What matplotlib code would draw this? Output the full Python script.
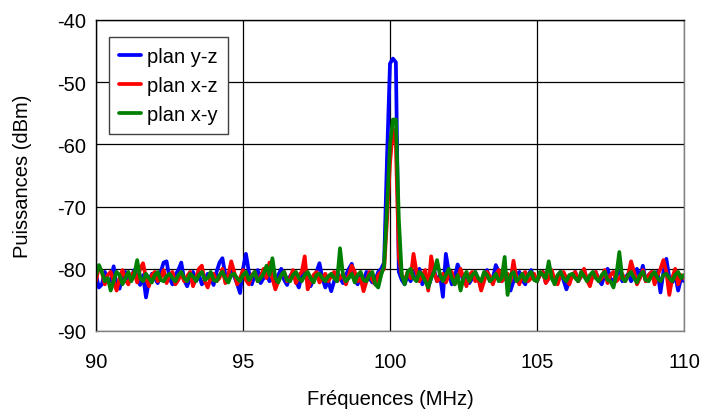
import numpy as np
import matplotlib

matplotlib.use('Agg')
import matplotlib.pyplot as plt

plt.rcParams['font.family'] = ['Liberation Sans', 'DejaVu Sans']
plt.rcParams['axes.unicode_minus'] = False

# frequency grid, 0.1 MHz step from 90 to 110 MHz
freq = np.round(np.arange(900, 1101) / 10.0, 1)

# plan y-z (blue), one row per MHz
yz = [-81.0, -83.0, -82.5, -80.5, -81.8, -82.0, -79.6, -82.8, -83.2, -81.0,
      -80.5, -82.0, -81.2, -80.2, -81.5, -82.6, -81.0, -84.6, -82.0, -80.8,
      -81.5, -82.3, -80.5, -79.0, -78.8, -81.5, -82.5, -81.0, -80.2, -79.0,
      -81.8, -82.8, -81.5, -80.5, -82.0, -81.0, -82.5, -81.8, -80.8, -81.5,
      -82.6, -80.5, -79.0, -78.3, -81.0, -82.0, -80.5, -81.2, -82.4, -83.9,
      -80.0, -77.6, -80.5, -82.5, -81.0, -80.2, -82.3, -81.5, -80.8, -82.0,
      -81.5, -82.8, -81.0, -80.0, -81.8, -82.6, -81.2, -80.5, -82.0, -83.0,
      -81.0, -80.2, -82.2, -82.8, -81.5, -80.5, -79.1, -81.5, -83.0, -82.0,
      -83.6, -82.0, -80.5, -81.5, -82.3, -81.0, -80.0, -79.2, -81.8, -82.5,
      -81.0, -82.0, -80.5, -81.5, -82.2, -81.8, -80.5, -80.0, -79.0, -62.0,
      -47.0, -46.2, -46.8, -80.5, -81.8, -82.5, -81.0, -82.0, -80.5, -81.2,
      -80.0, -82.5, -81.0, -83.0, -81.5, -80.2, -82.0, -81.0, -84.5, -77.6,
      -80.5, -82.5, -81.5, -79.3, -80.5, -82.0, -81.0, -82.3, -81.5, -80.5,
      -81.8, -82.5, -81.0, -80.2, -82.0, -81.5, -79.4, -80.5, -82.0, -81.2,
      -82.3, -83.5, -82.0, -81.0, -80.5, -81.8, -82.5, -81.0, -80.2, -81.5,
      -82.0, -81.0, -80.5, -82.2, -81.5, -80.8, -82.0, -81.2, -80.5, -81.8,
      -83.3, -82.0, -81.0, -80.5, -82.0, -81.2, -80.2, -81.8, -82.5, -81.0,
      -80.5, -81.8, -82.5, -81.0, -80.0, -81.5, -82.2, -81.0, -80.5, -82.0,
      -81.5, -80.8, -82.0, -81.2, -80.0, -81.5, -79.5, -82.0, -81.0, -80.5,
      -81.8, -80.5, -83.8, -80.5, -78.4, -81.5, -82.2, -81.0, -83.5, -81.5,
      -82.0]

# plan x-z (red)
xz = [-82.0, -79.6, -80.5, -82.5, -81.0, -80.5, -82.0, -83.5, -81.5, -80.2,
      -81.8, -82.5, -81.0, -80.5, -82.2, -80.0, -79.1, -81.5, -82.8, -81.0,
      -80.5, -82.0, -81.5, -80.2, -82.3, -81.0, -80.5, -82.5, -81.8, -80.8,
      -82.0, -81.2, -80.5, -82.8, -81.5, -80.0, -79.5, -82.0, -83.0, -81.5,
      -80.8, -82.0, -81.5, -80.0, -82.3, -81.0, -78.8, -80.5, -82.5, -81.5,
      -80.2, -81.8, -82.5, -81.0, -80.5, -82.0, -81.2, -80.0, -81.5, -79.0,
      -81.5, -83.3, -82.0, -81.0, -80.5, -82.0, -81.5, -80.2, -82.3, -81.0,
      -80.5, -78.0, -83.3, -82.0, -81.0, -80.5, -82.2, -81.5, -80.8, -82.0,
      -81.2, -80.5, -82.0, -81.5, -80.8, -82.5, -81.0, -79.5, -80.5, -82.0,
      -81.5, -83.6, -82.0, -80.5, -81.8, -82.5, -81.0, -80.5, -80.0, -72.0,
      -63.0, -57.5, -60.0, -78.0, -81.0, -82.0, -80.5, -81.5, -77.6, -80.5,
      -82.0, -81.0, -80.2, -83.5, -78.0, -80.5, -82.0, -81.5, -80.8, -82.2,
      -81.0, -80.5, -82.5, -81.8, -80.0, -81.5, -82.8, -81.0, -80.5, -82.0,
      -81.5, -83.5, -82.0, -80.5, -81.2, -82.5, -81.0, -80.2, -82.0, -81.5,
      -80.8, -82.0, -78.7, -81.5, -82.5, -81.0, -80.5, -82.0, -81.5, -80.8,
      -82.0, -81.0, -80.5, -82.3, -81.5, -80.2, -81.8, -82.5, -81.0, -80.5,
      -81.5, -82.5, -81.0, -80.5, -82.0, -81.2, -80.0, -81.8, -82.8, -81.0,
      -80.5, -82.0, -81.5, -80.2, -82.3, -81.0, -80.5, -82.0, -81.5, -80.8,
      -82.0, -81.0, -78.8, -80.5, -82.5, -81.5, -80.2, -82.0, -81.0, -80.5,
      -82.5, -81.0, -80.0, -78.6, -80.5, -84.2, -81.5, -80.0, -82.5, -81.0,
      -81.5]

# plan x-y (green)
xy = [-81.0, -79.4, -80.5, -82.0, -81.5, -83.5, -82.0, -80.5, -81.0, -82.5,
      -81.5, -80.5, -82.0, -81.0, -78.6, -81.5, -82.0, -80.8, -81.5, -82.2,
      -81.0, -80.5, -81.8, -82.0, -81.2, -80.8, -81.5, -82.0, -81.0, -80.5,
      -81.5, -82.0, -80.8, -81.2, -82.0, -81.0, -80.5, -81.8, -81.5, -80.5,
      -81.8, -82.0, -81.0, -80.5, -81.5, -82.2, -81.0, -80.8, -81.5, -82.0,
      -81.0, -80.5, -81.8, -81.2, -80.5, -82.0, -81.5, -80.8, -79.5, -81.0,
      -78.3, -81.5, -82.2, -81.0, -80.5, -81.8, -82.0, -81.0, -80.5, -81.5,
      -82.0, -81.0, -80.5, -81.5, -82.2, -81.0, -80.8, -81.5, -82.0, -81.2,
      -80.8, -81.5, -82.0, -76.7, -81.0, -82.0, -81.5, -80.8, -82.2, -81.0,
      -80.5, -81.8, -82.0, -81.0, -80.5, -82.5, -83.0, -81.0, -79.5, -70.0,
      -60.0, -56.0, -56.0, -72.0, -81.0, -82.5, -80.5, -80.0, -81.5, -82.0,
      -80.5, -81.0, -82.0, -83.0, -81.5, -80.5, -78.6, -81.0, -82.0, -81.0,
      -80.0, -81.5, -82.5, -81.0, -83.5, -81.5, -80.5, -82.0, -81.0, -80.5,
      -81.5, -82.0, -80.5, -81.0, -82.0, -81.5, -80.8, -82.0, -81.5, -78.1,
      -84.2, -81.0, -80.5, -82.0, -81.5, -80.8, -82.0, -81.0, -80.5, -81.8,
      -82.0, -80.5, -81.0, -81.5, -78.8, -81.5, -82.5, -81.0, -80.5, -81.5,
      -82.0, -81.0, -80.8, -81.5, -82.0, -80.5, -81.2, -82.0, -81.0, -80.5,
      -81.5, -82.0, -81.0, -80.5, -81.8, -82.0, -83.0, -81.0, -77.3, -81.5,
      -82.0, -81.0, -80.5, -81.5, -82.2, -81.0, -80.5, -81.8, -82.0, -81.0,
      -80.5, -81.5, -82.0, -81.0, -80.8, -81.5, -82.0, -81.0, -80.5, -81.5,
      -81.0]

labels = ["plan y-z", "plan x-z", "plan x-y"]
colors = ['#0000FF', '#FF0000', '#008000']
xticks = [90, 95, 100, 105, 110]
yticks = [-90, -80, -70, -60, -50, -40]

fig = plt.figure(figsize=(7.04, 4.14), dpi=100)
ax = fig.add_axes([96 / 704, 1 - 332 / 414, 588 / 704, 311 / 414])

for series, lab, col in zip([yz, xz, xy], labels, colors):
    ax.plot(freq, series, color=col, lw=2.7, label=lab,
            solid_joinstyle='round', solid_capstyle='round')

ax.set_xlim(90, 110)
ax.set_ylim(-90, -40)
ax.set_xticks(xticks)
ax.set_yticks(yticks)
ax.grid(True, color='black', lw=0.9)
ax.set_axisbelow(True)
ax.tick_params(axis='both', length=0, labelsize=14.5)
ax.tick_params(axis='x', pad=15)
ax.tick_params(axis='y', pad=7)

for side in ['top', 'left']:
    ax.spines[side].set_color('black')
for side in ['bottom', 'right']:
    ax.spines[side].set_color('#808080')
for s in ax.spines.values():
    s.set_linewidth(1.0)

ax.set_xlabel("Fréquences (MHz)", fontsize=14.5, labelpad=13)
ax.set_ylabel("Puissances (dBm)", fontsize=14.5, labelpad=18)

leg = ax.legend(loc='upper left', bbox_to_anchor=(0.022, 0.945), borderaxespad=0,
                fontsize=14.5, fancybox=False, framealpha=1, edgecolor='#404040',
                handlelength=1.1, handletextpad=0.3, labelspacing=0.5,
                borderpad=0.5)
leg.get_frame().set_linewidth(1.0)
for line in leg.get_lines():
    line.set_linewidth(2.7)

fig.savefig('out.png', dpi=100)
